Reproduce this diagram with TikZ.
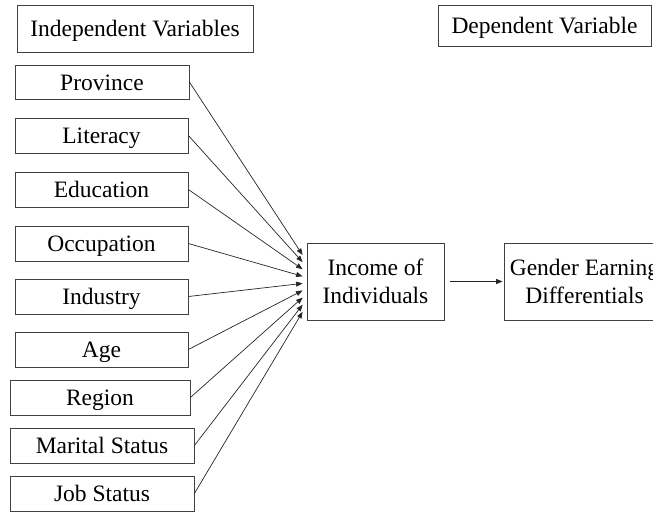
\documentclass[tikz,border=0pt]{standalone}
\usepackage{fontspec}
\setmainfont{Liberation Serif}
\usetikzlibrary{arrows.meta,calc}
\begin{document}
\begin{tikzpicture}[x=1pt,y=-1pt,
  vbox/.style={draw=black!75,line width=0.8pt,inner sep=0pt,align=center,
    font=\fontsize{23.5}{28}\selectfont},
  onebox/.style={vbox,text height=18.8pt,text depth=2.8pt},
  conn/.style={draw=black!85,line width=0.7pt,-{Triangle[length=6.5pt,width=5pt]}}]
\useasboundingbox (0,0) rectangle (653,514);
\clip (0,0) rectangle (653,514);
\node[onebox,minimum width=236pt,minimum height=47pt] (indep) at (135,28.5) {Independent Variables};
\node[onebox,minimum width=213pt,minimum height=41pt] (dep) at (544.5,25.5) {Dependent Variable};
\node[onebox,minimum width=174pt,minimum height=34pt] (prov) at (102,82) {Province};
\node[onebox,minimum width=173pt,minimum height=35pt] (lit) at (101.5,135.5) {Literacy};
\node[onebox,minimum width=173pt,minimum height=35pt] (edu) at (101.5,189.5) {Education};
\node[onebox,minimum width=173pt,minimum height=35pt] (occ) at (101.5,243.5) {Occupation};
\node[onebox,minimum width=173pt,minimum height=35pt] (ind) at (101.5,296.5) {Industry};
\node[onebox,minimum width=173pt,minimum height=35pt] (age) at (101.5,349.5) {Age};
\node[onebox,minimum width=180pt,minimum height=35pt] (reg) at (100,397.5) {Region};
\node[onebox,minimum width=184pt,minimum height=35pt] (mar) at (102,445.5) {Marital Status};
\node[onebox,minimum width=184pt,minimum height=35pt] (job) at (102,493.5) {Job Status};
\node[vbox,minimum width=137pt,minimum height=77pt] (inc) at (375.5,281.5) {Income of\\Individuals};
\node[vbox,minimum width=161pt,minimum height=77pt] (gen) at (584.5,281.5) {Gender Earning\\Differentials};
\foreach \n [count=\i from 0] in {prov,lit,edu,occ,ind,age,reg,mar,job} {
  \coordinate (t\i) at ($(inc.west)+(-4,-26.5+\i*7.1)$);
  \draw[conn] (\n.east) -- (t\i);
}
\coordinate (g) at ($(gen.west)+(-1,0)$);
\draw[conn] ($(inc.east)+(6,0)$) -- (g);
\end{tikzpicture}
\end{document}
